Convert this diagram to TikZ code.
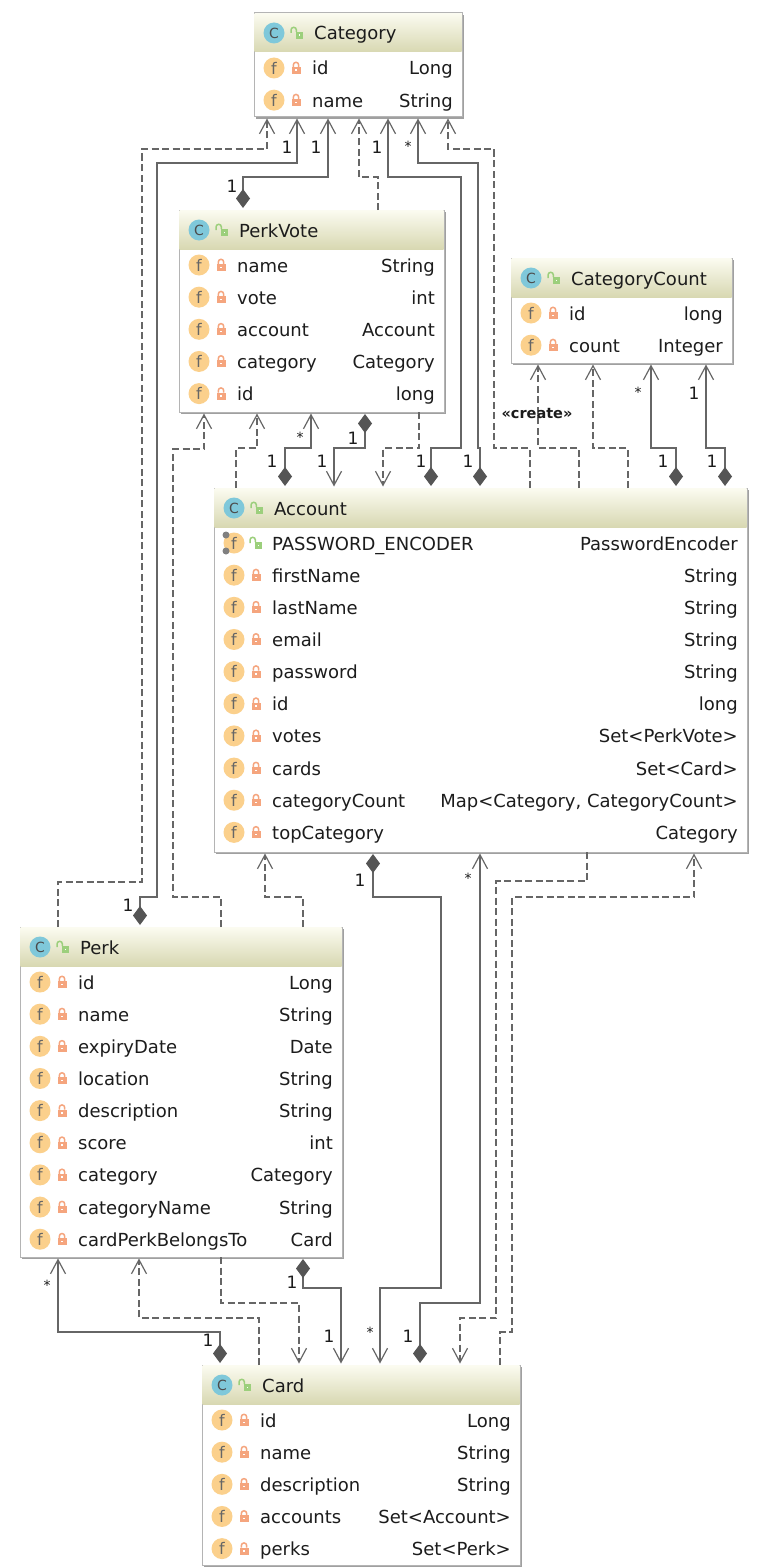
\documentclass[tikz,border=0pt]{standalone}
\usepackage{fontspec}
\setmainfont{DejaVu Sans}
\usetikzlibrary{calc,positioning,arrows.meta}
\definecolor{linegray}{HTML}{666666}
\definecolor{tipgray}{HTML}{555555}
\definecolor{framegray}{HTML}{B4B4B4}
\definecolor{shadowgray}{HTML}{A0A0A0}
\definecolor{headtop}{HTML}{FBFBF0}
\definecolor{headbottom}{HTML}{D8D8B2}
\definecolor{classblue}{HTML}{7FC8DA}
\definecolor{fieldorange}{HTML}{FBD08C}
\definecolor{lockred}{HTML}{F5A57E}
\definecolor{lockgreen}{HTML}{9CCF7C}
\definecolor{inkblack}{HTML}{1C1C1C}
\tikzset{>=stealth}
\tikzset{
 assoc/.style={draw=linegray,line width=1.4pt,{Diamond[length=19pt,width=14pt,fill=tipgray,color=tipgray]}-{Straight Barb[length=14pt,width=15pt,line width=1.2pt]},shorten >=1.5pt,shorten <=2pt},
 dep/.style={draw=linegray,line width=1.2pt,dash pattern=on 7pt off 3.5pt,-{Straight Barb[length=14pt,width=15pt,line width=1.2pt]},shorten >=1.5pt},
 classframe/.style={draw=framegray,fill=white,line width=1pt,inner sep=0pt,outer sep=0pt},
 classicon/.style={circle,fill=classblue,text=black!70,inner sep=0pt,minimum size=21pt,font=\fontsize{14}{14}\selectfont},
 fieldicon/.style={circle,fill=fieldorange,text=black!60,inner sep=0pt,minimum size=21pt,font=\fontsize{16}{16}\selectfont},
 rowtext/.style={inner sep=0pt,text=inkblack,font=\fontsize{18}{20}\selectfont},
 mult/.style={inner sep=0pt,text=inkblack,font=\fontsize{17}{18}\selectfont},
 multstar/.style={inner sep=0pt,text=inkblack,font=\fontsize{14}{16}\selectfont},
 closedlock/.pic={
  \fill[lockred] (-4.5,-1) rectangle (4.5,6);
  \draw[lockred,line width=1.5pt] (-2.7,-1) -- (-2.7,-3) arc[start angle=180,end angle=360,radius=2.7] -- (2.7,-1);
  \fill[white] (-0.8,1.5) rectangle (0.8,3);
 },
 openlock/.pic={
  \fill[lockgreen] (-1,-1) rectangle (6,6);
  \draw[lockgreen,line width=1.5pt] (-6,0) -- (-6,-3) arc[start angle=180,end angle=360,radius=2.7] -- (-0.6,-1);
  \fill[white] (1.8,1.5) rectangle (3.2,3);
 },
}
\newcommand{\classbox}[8]{
 \fill[shadowgray] (#2+2,#3+2) rectangle ++(#4,#5);
 \node[classframe,anchor=north west,minimum width=#4pt,minimum height=#5pt] (#1) at (#2,#3) {};
 \shade[top color=headtop,bottom color=headbottom] ($(#1.north west)+(0.5,0.5)$) rectangle ($(#1.north east)+(-0.5,39)$);
 \node[classicon] (#1-c) at ($(#1.north west)+(20,20)$) {C};
 \path ($(#1.north west)+(43,20)$) pic {openlock};
 \node[rowtext,anchor=base west] (#1-title) at ($(#1.north west)+(60,27)$) {#6};
 \foreach \fname/\ftype [count=\rownum] in {#8}{
  \node[fieldicon] (#1-f\rownum) at ($(#1.north west)+(20,55+32.15*\rownum-32.15)$) {f};
  \ifnum\rownum>#7\relax
  \path ($(#1.north west)+(42,55+32.15*\rownum-32.15)$) pic {closedlock};
  \else
  \path ($(#1.north west)+(42,55+32.15*\rownum-32.15)$) pic {openlock};
  \fill[black!50] ($(#1.north west)+(12,47+32.15*\rownum-32.15)$) circle [radius=3.5];
  \fill[black!50] ($(#1.north west)+(12,63+32.15*\rownum-32.15)$) circle [radius=3.5];
  \fi
  \node[rowtext,anchor=base west] (#1-n\rownum) at ($(#1.north west)+(58,62+32.15*\rownum-32.15)$) {\fname};
  \node[rowtext,anchor=base east] (#1-t\rownum) at ($(#1.north east)+(-9,62+32.15*\rownum-32.15)$) {\ftype};
 }
}
\begin{document}
\begin{tikzpicture}[x=1pt,y=-1pt]
\useasboundingbox (0,0) rectangle (770,1568);
\fill[white] (0,0) rectangle (770,1568);
\classbox{category}{254}{13}{208}{104}{Category}{0}{id/Long,name/String}
\classbox{perkvote}{179}{210}{265}{202}{PerkVote}{0}{name/String,vote/int,account/Account,category/Category,id/long}
\classbox{catcount}{511}{258}{221}{105}{CategoryCount}{0}{id/long,count/Integer}
\classbox{account}{214}{488}{533}{364}{Account}{1}{PASSWORD\_ENCODER/PasswordEncoder,firstName/String,lastName/String,email/String,password/String,id/long,votes/{Set<PerkVote>},cards/{Set<Card>},categoryCount/{Map<Category, CategoryCount>},topCategory/Category}
\classbox{perk}{20}{927}{322}{330}{Perk}{0}{id/Long,name/String,expiryDate/Date,location/String,description/String,score/int,category/Category,categoryName/String,cardPerkBelongsTo/Card}
\classbox{card}{202}{1365}{318}{200}{Card}{0}{id/Long,name/String,description/String,accounts/{Set<Account>},perks/{Set<Perk>}}
\draw[assoc] (140,0 |- perk.north) |- (157,897) |- (297,163) -- (297,0 |- category.south);
\draw[assoc] (243,0 |- perkvote.north) |- (328,177) -- (328,0 |- category.south);
\draw[assoc] (431,0 |- account.north) |- (461,448) |- (388,177) -- (388,0 |- category.south);
\draw[assoc] (480,0 |- account.north) |- (478,448) |- (418,163) -- (418,0 |- category.south);
\draw[assoc] (285,0 |- account.north) |- (311,448) -- (311,0 |- perkvote.south);
\draw[assoc] (365,0 |- perkvote.south) |- (334,448) -- (334,0 |- account.north);
\draw[assoc] (676,0 |- account.north) |- (651,448) -- (651,0 |- catcount.south);
\draw[assoc] (725,0 |- account.north) |- (706,448) -- (706,0 |- catcount.south);
\draw[assoc] (373,0 |- account.south) |- (441,897) |- (380,1288) -- (380,0 |- card.north);
\draw[assoc] (420,0 |- card.north) |- (480,1303) -- (480,0 |- account.south);
\draw[assoc] (303,0 |- perk.south) |- (341,1288) -- (341,0 |- card.north);
\draw[assoc] (220,0 |- card.north) |- (58,1332) -- (58,0 |- perk.south);
\draw[dep] (58,0 |- perk.north) |- (142,882) |- (267,149) -- (267,0 |- category.south);
\draw[dep] (221,0 |- perk.north) |- (173,897) |- (204,449) -- (204,0 |- perkvote.south);
\draw[dep] (303,0 |- perk.north) |- (265,897) -- (265,0 |- account.south);
\draw[dep] (378,0 |- perkvote.north) |- (359,177) -- (359,0 |- category.south);
\draw[dep] (236,0 |- account.north) |- (257,448) -- (257,0 |- perkvote.south);
\draw[dep] (419,0 |- perkvote.south) |- (383,448) -- (383,0 |- account.north);
\draw[dep] (530,0 |- account.north) |- (494,448) |- (448,149) -- (448,0 |- category.south);
\draw[dep] (579,0 |- account.north) |- (538,448) -- (538,0 |- catcount.south);
\draw[dep] (628,0 |- account.north) |- (593,448) -- (593,0 |- catcount.south);
\draw[dep] (587,0 |- account.south) |- (496,881) |- (460,1318) -- (460,0 |- card.north);
\draw[dep] (500,0 |- card.north) |- (512,1332) |- (694,897) -- (694,0 |- account.south);
\draw[dep] (259,0 |- card.north) |- (139,1318) -- (139,0 |- perk.south);
\draw[dep] (221,0 |- perk.south) |- (299,1303) -- (299,0 |- card.north);
\foreach \x/\y [count=\n] in {287/147,316/147,377/147,232/186,353/438,272/461,322/461,421/461,468/461,694/393,663/461,712/461,360/880,128/905,292/1282,208/1340,329/1336,408/1336}{
\node[mult] (mult\n) at (\x,\y) {1};
}
\foreach \x/\y [count=\n] in {408/146,300/437,638/392,468/878,47/1285,370/1332}{
\node[multstar] (star\n) at (\x,\y) {*};
}
\node[mult,font=\fontsize{14.5}{16}\selectfont\bfseries] (createlabel) at (537,414) {«create»};
\end{tikzpicture}
\end{document}
